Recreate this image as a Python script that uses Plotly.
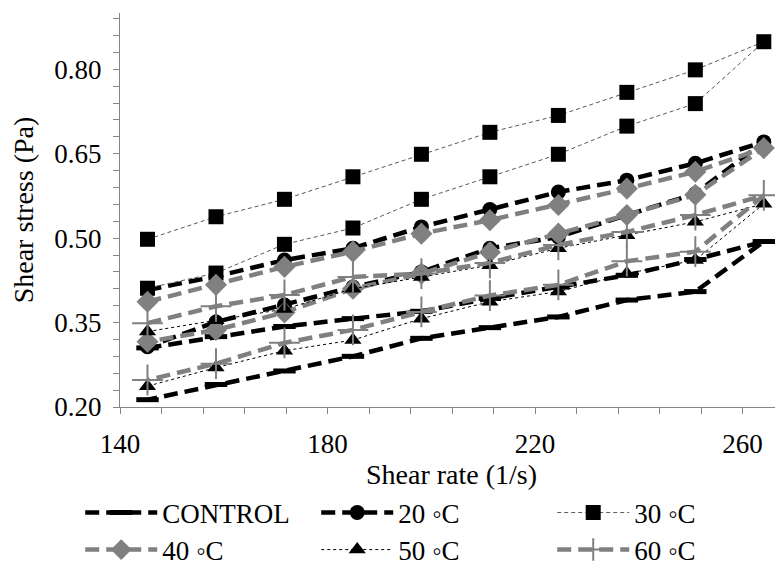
import plotly.graph_objects as go

# Shear rate (1/s) – common to all series
shear_rate = [145.3, 158.5, 171.7, 184.9, 198.1, 211.3, 224.5, 237.7, 250.9, 264.1]

# Shear stress (Pa): upper branch and lower branch of each hysteresis loop
control_upper = [0.305, 0.325, 0.343, 0.357, 0.370, 0.393, 0.413, 0.434, 0.462, 0.494]
control_lower = [0.213, 0.240, 0.264, 0.290, 0.322, 0.341, 0.360, 0.390, 0.405, 0.494]
t20_upper = [0.408, 0.432, 0.461, 0.482, 0.520, 0.551, 0.582, 0.603, 0.633, 0.671]
t20_lower = [0.307, 0.351, 0.381, 0.413, 0.440, 0.482, 0.502, 0.541, 0.579, 0.671]
t30_upper = [0.498, 0.538, 0.569, 0.609, 0.649, 0.688, 0.718, 0.759, 0.799, 0.849]
t30_lower = [0.411, 0.438, 0.489, 0.518, 0.569, 0.609, 0.649, 0.699, 0.739, 0.849]
t40_upper = [0.387, 0.417, 0.449, 0.476, 0.508, 0.532, 0.559, 0.588, 0.618, 0.660]
t40_lower = [0.316, 0.337, 0.368, 0.410, 0.437, 0.475, 0.508, 0.541, 0.577, 0.660]
t50_upper = [0.334, 0.354, 0.374, 0.410, 0.431, 0.452, 0.482, 0.505, 0.529, 0.561]
t50_lower = [0.237, 0.270, 0.300, 0.319, 0.357, 0.387, 0.405, 0.437, 0.461, 0.561]
t60_upper = [0.349, 0.379, 0.399, 0.431, 0.437, 0.456, 0.488, 0.511, 0.541, 0.576]
t60_lower = [0.248, 0.277, 0.314, 0.337, 0.369, 0.398, 0.417, 0.459, 0.476, 0.576]

series_names = ["CONTROL", "20 \u25e6C", "30 \u25e6C", "40 \u25e6C", "50 \u25e6C", "60 \u25e6C"]

x_tick_vals = [140, 180, 220, 260]
y_tick_vals = [0.20, 0.35, 0.50, 0.65, 0.80]

FONT = "Liberation Serif"
GRAY = "#808080"

loops = [
    (control_upper, control_lower),
    (t20_upper, t20_lower),
    (t30_upper, t30_lower),
    (t40_upper, t40_lower),
    (t50_upper, t50_lower),
    (t60_upper, t60_lower),
]

styles = [
    dict(line=dict(color="black", width=4.5, dash="14px,7px"),
         marker=dict(symbol="line-ew", size=16, color="black", line=dict(color="black", width=5))),
    dict(line=dict(color="black", width=4.5, dash="14px,7px"),
         marker=dict(symbol="circle", size=15, color="black", line=dict(width=0))),
    dict(line=dict(color="#595959", width=1, dash="4px,3px"),
         marker=dict(symbol="square", size=15, color="black", line=dict(width=0))),
    dict(line=dict(color=GRAY, width=4.5, dash="14px,7px"),
         marker=dict(symbol="diamond", size=17, color=GRAY, line=dict(width=0))),
    dict(line=dict(color="black", width=1, dash="dot"),
         marker=dict(symbol="triangle-up", size=15, color="black", line=dict(width=0))),
    dict(line=dict(color=GRAY, width=4.5, dash="14px,7px"),
         marker=dict(symbol="cross-thin-open", size=22, color=GRAY, line=dict(color=GRAY, width=2))),
]

fig = go.Figure()
for i, (name, (up, lo), st) in enumerate(zip(series_names, loops, styles)):
    xs = list(shear_rate) + list(shear_rate[::-1])[1:]
    ys = list(up) + list(lo[::-1])[1:]
    fig.add_trace(go.Scatter(
        x=xs, y=ys, mode="lines+markers", name=name,
        line=st["line"], marker=st["marker"],
        legend="legend" if i < 3 else "legend2",
    ))

fig.update_xaxes(
    showline=True, linecolor="#868686", linewidth=1.3,
    ticks="outside", ticklen=6, tickcolor="#868686", tickwidth=1.3,
    showgrid=False, zeroline=False, automargin=False,
    tickfont=dict(family=FONT, size=27, color="black"),
    range=[140, 267.8], tickmode="array", tickvals=x_tick_vals, ticklabelstandoff=6,
    minor=dict(dtick=8, tick0=140, ticks="outside", ticklen=6, tickcolor="#868686", tickwidth=1.3),
    title=dict(text="Shear rate (1/s)", standoff=0, font=dict(family=FONT, size=28, color="black")),
)
fig.update_yaxes(
    showline=True, linecolor="#868686", linewidth=1.3,
    ticks="outside", ticklen=6, tickcolor="#868686", tickwidth=1.3,
    showgrid=False, zeroline=False, automargin=False,
    tickfont=dict(family=FONT, size=27, color="black"),
    range=[0.2, 0.9], tickmode="array", tickvals=y_tick_vals, tickformat=".2f", ticklabelstandoff=6,
    minor=dict(dtick=0.03, tick0=0.2, ticks="outside", ticklen=6, tickcolor="#868686", tickwidth=1.3),
    title=dict(text="Shear stress (Pa)", standoff=12, font=dict(family=FONT, size=28, color="black")),
)

legend_common = dict(
    orientation="h", xanchor="left", yanchor="middle",
    font=dict(family=FONT, size=27, color="black"),
    itemwidth=72, entrywidth=149, bgcolor="rgba(0,0,0,0)",
    traceorder="normal",
)
fig.update_layout(
    template="none",
    width=775, height=556,
    font=dict(family=FONT, color="black"),
    margin=dict(l=112, r=0, t=5, b=157, autoexpand=False),
    showlegend=True,
    legend=dict(x=-0.060, y=-0.269, **legend_common),
    legend2=dict(x=-0.060, y=-0.363, **legend_common),
)

fig.write_html("out.html")
